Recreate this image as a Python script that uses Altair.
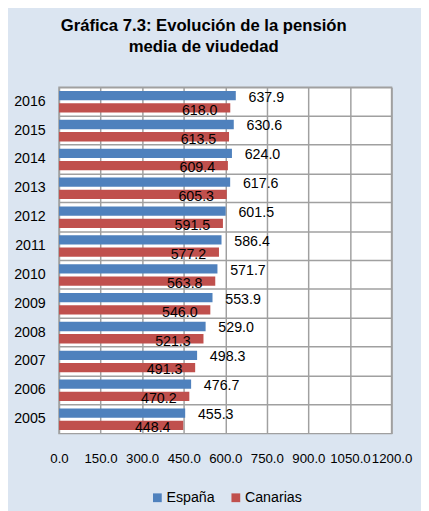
import altair as alt
import pandas as pd

years = ["2005", "2006", "2007", "2008", "2009", "2010", "2011", "2012", "2013", "2014", "2015", "2016"]
espana = [455.3, 476.7, 498.3, 529.0, 553.9, 571.7, 586.4, 601.5, 617.6, 624.0, 630.6, 637.9]
canarias = [448.4, 470.2, 491.3, 521.3, 546.0, 563.8, 577.2, 591.5, 605.3, 609.4, 613.5, 618.0]
series = ["España", "Canarias"]
colors = ["#4f81bd", "#c0504d"]
x_ticks = [0, 150, 300, 450, 600, 750, 900, 1050, 1200]
title_lines = ["Gráfica 7.3: Evolución de la pensión", "media de viudedad"]

rows = []
for y, e, c in zip(years, espana, canarias):
    rows.append({"year": y, "serie": series[0], "value": e})
    rows.append({"year": y, "serie": series[1], "value": c})
df = pd.DataFrame(rows)

FONT = "Liberation Sans, Arial, sans-serif"
grid_col = "#a0a0a0"

y_enc = alt.Y("year:N", sort=years[::-1],
              scale=alt.Scale(paddingInner=0, paddingOuter=0),
              axis=alt.Axis(title=None, grid=True, bandPosition=0, gridColor=grid_col,
                            gridWidth=1.5, domain=False, ticks=False, labelPadding=14,
                            labelFontSize=14.5, labelFont=FONT, labelColor="#000"))
yoff = alt.YOffset("serie:N", sort=series,
                   scale=alt.Scale(paddingInner=0.24, paddingOuter=0.3))
x_enc = alt.X("value:Q", scale=alt.Scale(domain=[0, 1200], nice=False),
              axis=alt.Axis(title=None, values=x_ticks, format=".1f", grid=True,
                            gridColor=grid_col, gridWidth=1.5, domain=False, ticks=False,
                            labelPadding=18, labelFontSize=13.5, labelFont=FONT,
                            labelColor="#000", labelOverlap=False, labelFlush=False))

bars = alt.Chart(df).mark_bar().encode(
    x=x_enc, y=y_enc, yOffset=yoff,
    color=alt.Color("serie:N", sort=series,
                    scale=alt.Scale(domain=series, range=colors),
                    legend=alt.Legend(title=None, orient="none", legendX=93, legendY=411,
                                      direction="horizontal", symbolType="square",
                                      symbolSize=80, symbolStrokeWidth=0,
                                      labelFontSize=14.5, labelFont=FONT, labelColor="#000",
                                      columnPadding=14, labelOffset=2)),
)

lab_es = alt.Chart(df).transform_filter(alt.datum.serie == series[0]).mark_text(
    align="left", baseline="middle", dx=13, dy=2, fontSize=14.5, font=FONT, color="#000"
).encode(x="value:Q", y=alt.Y("year:N", sort=years[::-1]), yOffset=yoff,
         text=alt.Text("value:Q", format=".1f"))

lab_ca = alt.Chart(df).transform_filter(alt.datum.serie == series[1]).mark_text(
    align="right", baseline="middle", dx=-13, dy=3, fontSize=14.5, font=FONT, color="#000"
).encode(x="value:Q", y=alt.Y("year:N", sort=years[::-1]), yOffset=yoff,
         text=alt.Text("value:Q", format=".1f"))

chart = alt.layer(bars, lab_es, lab_ca).properties(
    width=339, height=353,
    autosize=alt.AutoSizeParams(type="none"),
    padding={"left": 52, "top": 76, "right": 30, "bottom": 74},
    background="#dbe5f1",
    title=alt.TitleParams(text=title_lines, fontSize=17, font=FONT, fontWeight="bold",
                          color="#000", anchor="middle", dx=-22, offset=32, lineHeight=21),
).configure_view(fill="white", stroke=grid_col, strokeWidth=1.5)

chart.save("out.html", embed_options={"renderer": "svg", "actions": False})
